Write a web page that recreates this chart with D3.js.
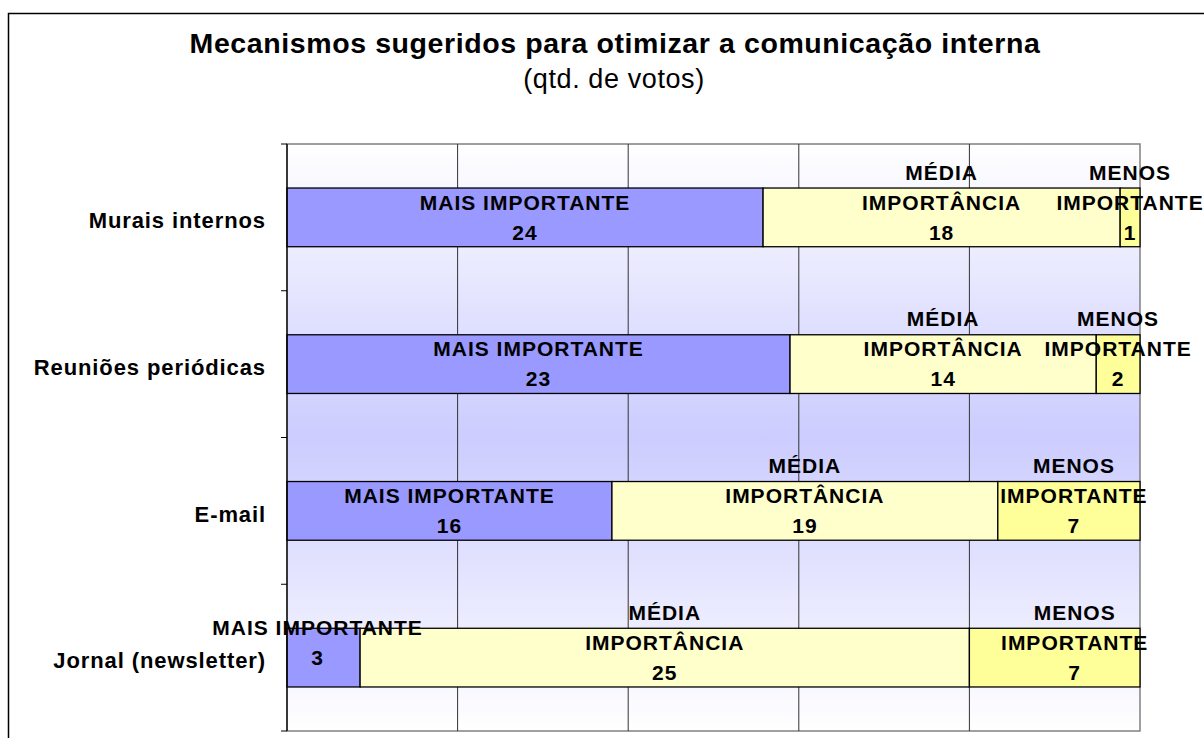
<!DOCTYPE html>
<html>
<head>
<meta charset="utf-8">
<script src="https://cdn.jsdelivr.net/npm/d3@7"></script>
<style>
  body { margin: 0; background: #fff; }
  text { font-family: 'Liberation Sans', Arial, sans-serif; }
</style>
</head>
<body>
<div id="chart"></div>
<script>
var categories = ['Murais internos', 'Reuniões periódicas', 'E-mail', 'Jornal (newsletter)'];
var seriesNames = ['MAIS IMPORTANTE', 'MÉDIA IMPORTÂNCIA', 'MENOS IMPORTANTE'];
var seriesLines = [['MAIS IMPORTANTE'], ['MÉDIA', 'IMPORTÂNCIA'], ['MENOS', 'IMPORTANTE']];
var maisImportante = [24, 23, 16, 3];
var mediaImportancia = [18, 14, 19, 25];
var menosImportante = [1, 2, 7, 7];
var xTicks = [0, 0.2, 0.4, 0.6, 0.8, 1];

var colors = ['#9999ff', '#ffffcc', '#ffff99'];
var W = 1204, H = 738;
var plot = { left: 287, right: 1140, top: 144, bottom: 731 };

// a few labels that Excel pushed off centre
var labelNudge = { 'Jornal (newsletter)|0': [-6, -15], 'Jornal (newsletter)|2': [20, 0], 'E-mail|2': [5, 0] };

function svgr(id, w, h) {
    return d3.select(id)
        .append('svg')
        .attr('width', w)
        .attr('height', h)
        .attr('xmlns', 'http://www.w3.org/2000/svg');
}

function drawChart(id) {
    var svg = svgr(id, W, H);

    var table = categories.map((c, i) => ({
        cat: c, s0: maisImportante[i], s1: mediaImportancia[i], s2: menosImportante[i]
    }));
    var stacked = d3.stack()
        .keys(['s0', 's1', 's2'])
        .offset(d3.stackOffsetExpand)(table);

    var x = d3.scaleLinear()
        .domain([0, 1])
        .range([plot.left, plot.right]);
    var y = d3.scaleBand()
        .domain(categories)
        .range([plot.top, plot.bottom])
        .paddingInner(0.6)
        .paddingOuter(0.3);

    // outer frame
    svg.append('rect')
        .attr('x', 8.5).attr('y', 13.5)
        .attr('width', 1220).attr('height', 760)
        .attr('fill', '#fff')
        .attr('stroke', '#000')
        .attr('stroke-width', 1.5);

    // titles
    svg.append('text')
        .attr('x', 615).attr('y', 53)
        .attr('text-anchor', 'middle')
        .style('font-size', '28.5px')
        .style('letter-spacing', '0.6px')
        .style('font-weight', 'bold')
        .text('Mecanismos sugeridos para otimizar a comunicação interna');
    svg.append('text')
        .attr('x', 614).attr('y', 88)
        .attr('text-anchor', 'middle')
        .style('font-size', '27px')
        .style('letter-spacing', '0.6px')
        .text('(qtd. de votos)');

    // plot background gradient
    var grad = svg.append('defs').append('linearGradient')
        .attr('id', 'bg-grad')
        .attr('x1', 0).attr('y1', 0).attr('x2', 0).attr('y2', 1);
    grad.selectAll('stop')
        .data([
            { offset: '0%', color: '#ffffff' },
            { offset: '50%', color: '#ccccff' },
            { offset: '100%', color: '#ffffff' },
        ])
        .enter()
        .append('stop')
        .attr('offset', (d) => d.offset)
        .attr('stop-color', (d) => d.color);

    svg.append('rect')
        .attr('x', plot.left).attr('y', plot.top)
        .attr('width', plot.right - plot.left)
        .attr('height', plot.bottom - plot.top)
        .attr('fill', 'url(#bg-grad)')
        .attr('stroke', '#808080')
        .attr('stroke-width', 1.5);

    // vertical gridlines
    svg.append('g')
        .selectAll('line')
        .data(xTicks.slice(1, -1))
        .enter()
        .append('line')
        .attr('x1', (d) => x(d)).attr('x2', (d) => x(d))
        .attr('y1', plot.top).attr('y2', plot.bottom)
        .attr('stroke', '#333')
        .attr('stroke-width', 1);

    // bars
    var layer = svg.append('g')
        .selectAll('g')
        .data(stacked)
        .enter()
        .append('g')
        .attr('fill', (d, i) => colors[i]);
    layer.selectAll('rect')
        .data((d) => d)
        .enter()
        .append('rect')
        .attr('x', (d) => x(d[0]))
        .attr('y', (d) => y(d.data.cat))
        .attr('width', (d) => x(d[1]) - x(d[0]))
        .attr('height', y.bandwidth())
        .attr('stroke', '#000')
        .attr('stroke-width', 1.3);

    // y axis line and ticks at band edges
    var step = y.step();
    var edges = d3.range(categories.length + 1).map((i) => plot.top + i * step);
    svg.append('line')
        .attr('x1', plot.left).attr('x2', plot.left)
        .attr('y1', plot.top).attr('y2', plot.bottom)
        .attr('stroke', '#000').attr('stroke-width', 1.3);
    svg.append('g')
        .selectAll('line')
        .data(edges)
        .enter()
        .append('line')
        .attr('x1', plot.left - 6).attr('x2', plot.left)
        .attr('y1', (d) => d).attr('y2', (d) => d)
        .attr('stroke', '#000');

    // category labels
    svg.append('g')
        .selectAll('text')
        .data(categories)
        .enter()
        .append('text')
        .attr('x', 266)
        .attr('y', (d) => y(d) + y.bandwidth() / 2 + 3)
        .attr('dy', '0.35em')
        .attr('text-anchor', 'end')
        .style('font-size', '22px')
        .style('letter-spacing', '0.9px')
        .style('font-weight', 'bold')
        .text((d) => d);

    // data labels: series name lines above, value on last line
    var labels = [];
    stacked.forEach((s, si) => {
        s.forEach((d, ci) => {
            var lines = seriesLines[si].concat([String(table[ci][s.key])]);
            var nudge = labelNudge[d.data.cat + '|' + si] || [0, 0];
            var cx = (x(d[0]) + x(d[1])) / 2 + nudge[0];
            var cy = y(d.data.cat) + y.bandwidth() / 2 + 15 + nudge[1];
            lines.forEach((t, li) => {
                labels.push({ text: t, x: cx, y: cy - (lines.length - 1 - li) * 30 });
            });
        });
    });
    svg.append('g')
        .selectAll('text')
        .data(labels)
        .enter()
        .append('text')
        .attr('x', (d) => d.x)
        .attr('y', (d) => d.y)
        .attr('dy', '0.35em')
        .attr('text-anchor', 'middle')
        .style('font-size', '21px')
        .style('letter-spacing', '1px')
        .style('font-weight', 'bold')
        .text((d) => d.text);
}

drawChart('#chart');
</script>
</body>
</html>
